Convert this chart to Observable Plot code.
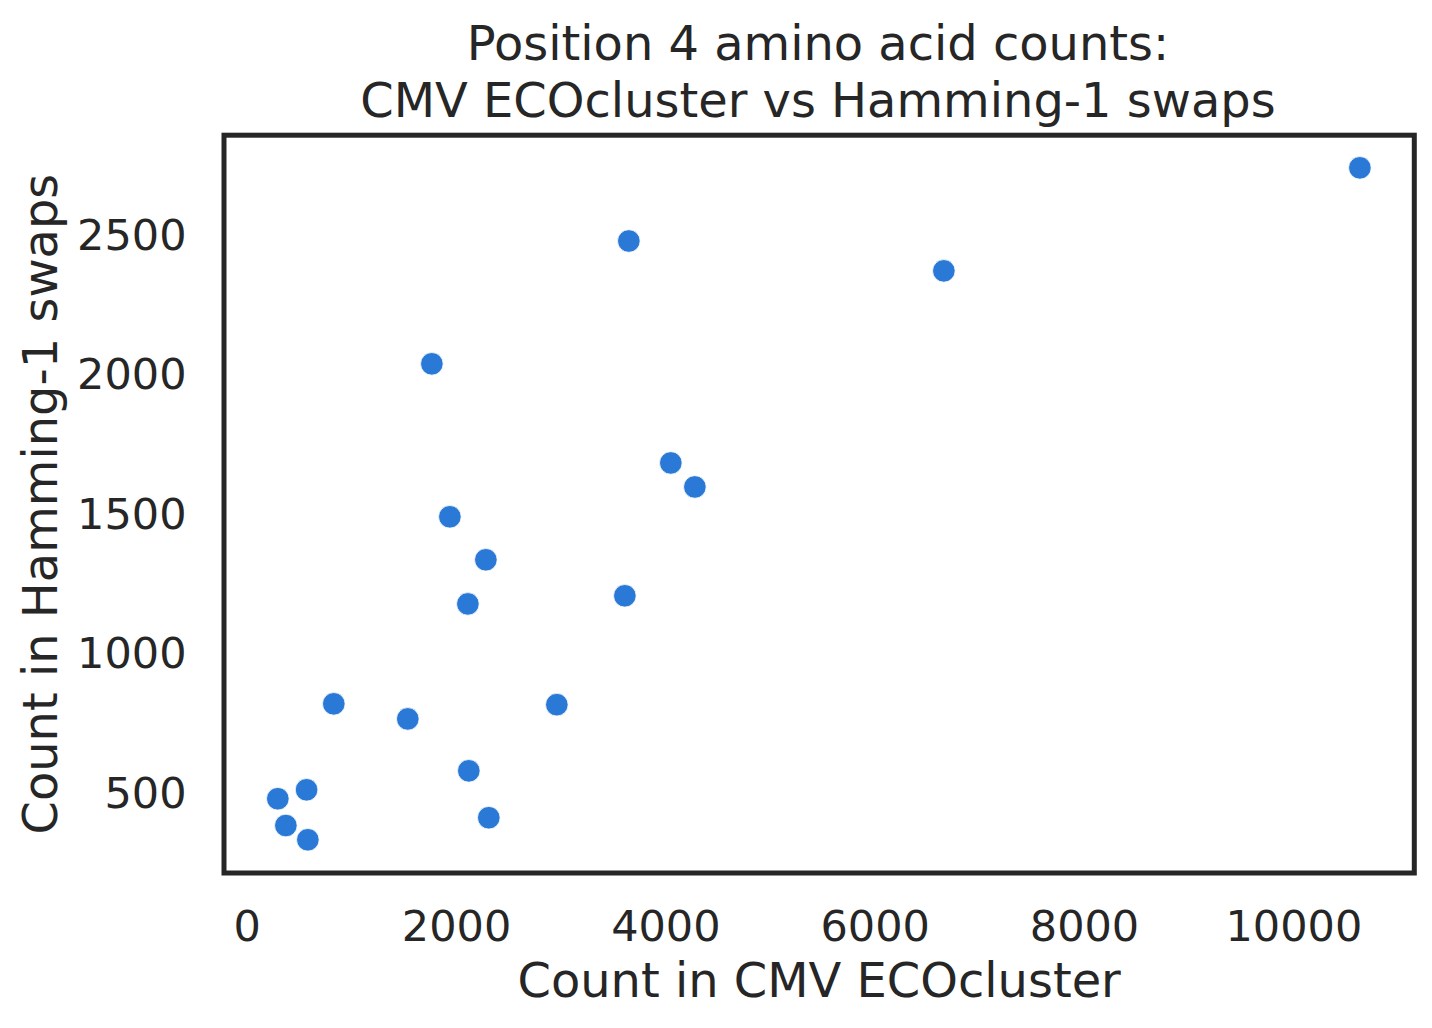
<!DOCTYPE html>
<html>
<head>
<meta charset="utf-8">
<script src="https://cdn.jsdelivr.net/npm/d3@7"></script>
<script src="https://cdn.jsdelivr.net/npm/@observablehq/plot@0.6"></script>
<style>
  html, body { margin: 0; padding: 0; background: white; }
  #wrap { position: relative; width: 1432px; height: 1028px; overflow: hidden; font-family: "DejaVu Sans", sans-serif; color: #262626; }
  #title { position: absolute; left: 222px; width: 1192px; top: 15px; text-align: center; font-size: 47.9px; line-height: 57px; white-space: nowrap; }
  #chart { position: absolute; left: 0; top: 130px; }
</style>
</head>
<body>
<div id="wrap">
  <div id="title"></div>
  <div id="chart"></div>
</div>
<script>
const titleLines = ["Position 4 amino acid counts:", "CMV ECOcluster vs Hamming-1 swaps"];
const xLabel = "Count in CMV ECOcluster";
const yLabel = "Count in Hamming-1 swaps";
const cmvCounts = [10631, 3646, 6656, 1764, 4047, 4277, 1936, 2280, 2108, 3608, 827, 2958, 1534, 2117, 567, 292, 369, 579, 2308];
const swapCounts = [2744, 2482, 2375, 2042, 1687, 1601, 1494, 1340, 1182, 1211, 824, 821, 770, 584, 516, 484, 388, 337, 416];
const xTicks = [0, 2000, 4000, 6000, 8000, 10000];
const yTicks = [500, 1000, 1500, 2000, 2500];

const titleEl = document.getElementById("title");
titleLines.forEach((t, i) => {
  if (i) titleEl.appendChild(document.createElement("br"));
  titleEl.appendChild(document.createTextNode(t));
});

const data = cmvCounts.map((c, i) => ({cmv: c, swaps: swapCounts[i]}));

const chart = Plot.plot({
  width: 1432,
  height: 898,
  marginLeft: 223.5,
  marginRight: 18.2,
  marginTop: 4.7,
  marginBottom: 155.5,
  style: {fontFamily: "DejaVu Sans", color: "#262626", background: "white", overflow: "visible"},
  x: {domain: [-222, 11151]},
  y: {domain: [218, 2861]},
  marks: [
    Plot.axisX({ticks: xTicks, tickSize: 0, tickPadding: 37, fontSize: 43, tickFormat: d => String(d), label: null}),
    Plot.axisY({ticks: yTicks, tickSize: 0, tickPadding: 37.5, fontSize: 43, tickFormat: d => String(d), label: null}),
    Plot.dot(data, {x: "cmv", y: "swaps", r: 11.3, fill: "#2a79d7", stroke: "white", strokeWidth: 0.8}),
    Plot.frame({stroke: "#262626", strokeWidth: 5}),
    Plot.text([xLabel], {frameAnchor: "bottom", dy: 90.2, lineAnchor: "top", textAnchor: "middle", fontSize: 47.9, fill: "#262626"}),
    Plot.text([yLabel], {frameAnchor: "left", rotate: -90, dx: -200.8, lineAnchor: "top", textAnchor: "middle", fontSize: 47.9, fill: "#262626"})
  ]
});
document.getElementById("chart").appendChild(chart);
</script>
</body>
</html>
